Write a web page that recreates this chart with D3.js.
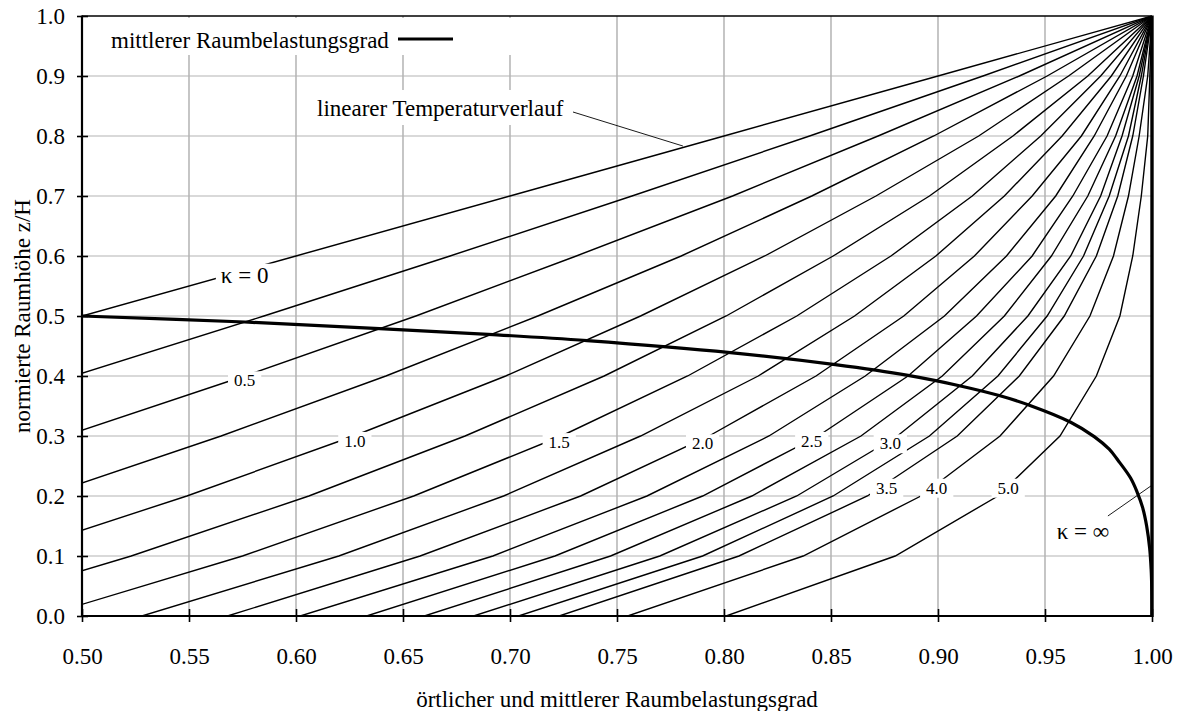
<!DOCTYPE html>
<html><head><meta charset="utf-8">
<script src="https://cdn.jsdelivr.net/npm/d3@7"></script>
<style>
body{margin:0;background:#fff}
svg{display:block}
svg text{font-family:"Liberation Serif","Times New Roman",serif !important;fill:#000}
</style>
</head><body><svg id="c" width="1179" height="711" font-family="Liberation Serif, Times New Roman, serif"></svg>
<script>
// ---- data ----
const zetaLevels = [0.0,0.1,0.2,0.3,0.4,0.5,0.6,0.7,0.8,0.9,1.0];
const kappaValues = [0,0.25,0.5,0.75,1.0,1.25,1.5,1.75,2.0,2.25,2.5,2.75,3.0,3.25,3.5,4.0,5.0];
const muK000 = [0.000,0.100,0.200,0.300,0.400,0.500,0.600,0.700,0.800,0.900,1.000];
const muK025 = [0.115,0.214,0.310,0.404,0.496,0.585,0.672,0.757,0.840,0.921,1.000];
const muK050 = [0.213,0.311,0.403,0.492,0.576,0.656,0.731,0.804,0.872,0.938,1.000];
const muK075 = [0.296,0.393,0.482,0.565,0.642,0.713,0.780,0.841,0.898,0.951,1.000];
const muK100 = [0.368,0.463,0.549,0.627,0.698,0.761,0.819,0.871,0.919,0.961,1.000];
const muK125 = [0.429,0.523,0.606,0.679,0.744,0.801,0.851,0.896,0.935,0.970,1.000];
const muK150 = [0.482,0.575,0.655,0.724,0.783,0.834,0.878,0.916,0.948,0.976,1.000];
const muK175 = [0.528,0.620,0.697,0.761,0.816,0.861,0.899,0.931,0.958,0.981,1.000];
const muK200 = [0.568,0.658,0.733,0.793,0.843,0.884,0.917,0.944,0.967,0.985,1.000];
const muK225 = [0.602,0.692,0.764,0.821,0.866,0.903,0.932,0.955,0.973,0.988,1.000];
const muK250 = [0.633,0.721,0.790,0.844,0.886,0.918,0.944,0.963,0.979,0.991,1.000];
const muK275 = [0.660,0.747,0.813,0.864,0.902,0.931,0.953,0.970,0.983,0.993,1.000];
const muK300 = [0.683,0.770,0.834,0.881,0.916,0.942,0.962,0.976,0.986,0.994,1.000];
const muK325 = [0.704,0.790,0.851,0.896,0.928,0.951,0.968,0.980,0.989,0.995,1.000];
const muK350 = [0.723,0.807,0.867,0.909,0.938,0.959,0.974,0.984,0.991,0.996,1.000];
const muK400 = [0.755,0.837,0.892,0.929,0.954,0.971,0.982,0.989,0.994,0.998,1.000];
const muK500 = [0.801,0.880,0.928,0.957,0.974,0.985,0.991,0.995,0.998,0.999,1.000];
const kappaSeries = [muK000,muK025,muK050,muK075,muK100,muK125,muK150,muK175,muK200,
                     muK225,muK250,muK275,muK300,muK325,muK350,muK400,muK500];

// mean room load factor (thick curve)
const meanMu   = [0.500,0.576,0.639,0.692,0.736,0.803,0.852,0.886,0.911,0.929,0.943,0.962,0.973,0.980,0.984,0.990,0.993,0.9956,0.9975,0.9989,0.9996,0.9999,1.000,1.000];
const meanZeta = [0.500,0.490,0.479,0.469,0.459,0.439,0.419,0.401,0.383,0.367,0.351,0.323,0.299,0.278,0.260,0.230,0.207,0.181,0.150,0.113,0.078,0.046,0.019,0.000];

// curve labels
const curveLabelText = ["0.5","1.0","1.5","2.0","2.5","3.0","3.5","4.0","5.0"];
const curveLabelMu   = [0.576,0.6275,0.723,0.790,0.841,0.8777,0.876,0.8994,0.9328];
const curveLabelZeta = [0.392,0.291,0.289,0.287,0.291,0.287,0.213,0.213,0.213];

const xTickValues = [0.50,0.55,0.60,0.65,0.70,0.75,0.80,0.85,0.90,0.95,1.00];
const yTickValues = [0.0,0.1,0.2,0.3,0.4,0.5,0.6,0.7,0.8,0.9,1.0];

// ---- layout ----
const FONT = '"Liberation Serif","Times New Roman",serif';
const W = 1179, H = 711;
const m = {l:82, t:16, r:27, b:95};
const x = d3.scaleLinear().domain([0.5,1]).range([m.l, W - m.r]);
const y = d3.scaleLinear().domain([0,1]).range([H - m.b, m.t]);
const svg = d3.select("#c");
const FS = 23;

svg.append("defs").append("clipPath").attr("id","plotclip")
  .append("rect").attr("x",x(0.5)).attr("y",y(1)).attr("width",x(1)-x(0.5)).attr("height",y(0)-y(1));

// grid
const grid = svg.append("g");
grid.selectAll("line.v").data(xTickValues.slice(1,-1)).join("line")
  .attr("x1",d=>x(d)).attr("x2",d=>x(d)).attr("y1",y(0)).attr("y2",y(1))
  .attr("stroke","#969696").attr("stroke-width",1.1);
grid.selectAll("line.h").data(yTickValues.slice(1,-1)).join("line")
  .attr("y1",d=>y(d)).attr("y2",d=>y(d)).attr("x1",x(0.5)).attr("x2",x(1))
  .attr("stroke","#b4b4b4").attr("stroke-width",1.1);

// kappa curves
const line = d3.line().x(d=>x(d[0])).y(d=>y(d[1])).curve(d3.curveLinear);
const cg = svg.append("g").attr("clip-path","url(#plotclip)");
cg.selectAll("path.k").data(kappaSeries).join("path")
  .attr("d", s => line(s.map((v,i)=>[v, zetaLevels[i]])))
  .attr("fill","none").attr("stroke","#000").attr("stroke-width",1.4);

// mean curve
const meanLine = d3.line().x(d=>x(d[0])).y(d=>y(d[1])).curve(d3.curveCatmullRom.alpha(0.5));
cg.append("path").attr("d", meanLine(meanMu.map((v,i)=>[v, meanZeta[i]])))
  .attr("fill","none").attr("stroke","#000").attr("stroke-width",3.2);

// helper: label with white box
function boxedText(g, tx, ty, txt, size, anchor, padX, padY){
  const t = g.append("text").attr("x",tx).attr("y",ty).attr("font-size",size)
    .attr("font-family",FONT)
    .attr("text-anchor",anchor||"middle").attr("dominant-baseline","central").text(txt);
  const b = t.node().getBBox();
  g.insert("rect","text").attr("x",b.x-padX).attr("y",b.y-padY)
    .attr("width",b.width+2*padX).attr("height",b.height+2*padY).attr("fill","#fff");
  return t;
}
const lg = svg.append("g");
curveLabelText.forEach((t,i)=>{
  const g = lg.append("g");
  boxedText(g, x(curveLabelMu[i]), y(curveLabelZeta[i]), t, 17, "middle", 6, 0);
});
// kappa = 0 label
{ const g = lg.append("g"); boxedText(g, x(0.576), y(0.568), "κ = 0", FS, "middle", 5, -1); }
// kappa = inf label + pointer
svg.append("line").attr("x1",x(0.9794)).attr("y1",y(0.1667)).attr("x2",x(1)).attr("y2",y(0.218))
  .attr("stroke","#000").attr("stroke-width",0.9);
svg.append("text").attr("x",x(0.9677)).attr("y",y(0.1406)).attr("font-size",FS).attr("font-family",FONT)
  .attr("text-anchor","middle").attr("dominant-baseline","central").text("κ = ∞");

// linear temperature annotation
{
  const g = svg.append("g");
  g.append("rect").attr("x",310).attr("y",90).attr("width",262).attr("height",35).attr("fill","#fff");
  g.append("text").attr("x",317).attr("y",116).attr("font-size",FS).attr("font-family",FONT).text("linearer Temperaturverlauf");
  g.append("line").attr("x1",573).attr("y1",112).attr("x2",x(0.7808)).attr("y2",y(0.7833))
    .attr("stroke","#000").attr("stroke-width",0.9);
}
// legend
{
  const g = svg.append("g");
  g.append("rect").attr("x",100).attr("y",18).attr("width",420).attr("height",37).attr("fill","#fff");
  g.append("text").attr("x",111).attr("y",48).attr("font-size",FS).attr("font-family",FONT).text("mittlerer Raumbelastungsgrad");
  g.append("line").attr("x1",398).attr("x2",453).attr("y1",39).attr("y2",39)
    .attr("stroke","#000").attr("stroke-width",3.2);
}

// axes
const xa = svg.append("g").attr("transform",`translate(0,${y(0)})`)
  .call(d3.axisBottom(x).tickValues(xTickValues).tickFormat(d3.format(".2f")).tickSize(6).tickPadding(26));
const xaIn = svg.append("g").attr("transform",`translate(0,${y(0)})`)
  .call(d3.axisBottom(x).tickValues(xTickValues).tickFormat("").tickSize(-7));
const ya = svg.append("g").attr("transform",`translate(${x(0.5)},0)`)
  .call(d3.axisLeft(y).tickValues(yTickValues).tickFormat(d3.format(".1f")).tickSize(5).tickPadding(12));
const yaIn = svg.append("g").attr("transform",`translate(${x(0.5)},0)`)
  .call(d3.axisLeft(y).tickValues(yTickValues).tickFormat("").tickSize(-6));
[xa,xaIn,ya,yaIn].forEach(a=>{
  a.attr("font-family",FONT).attr("font-size",FS);
  a.select(".domain").remove();
  a.selectAll(".tick line").attr("stroke","#000").attr("stroke-width",1.6);
  a.selectAll("text").attr("font-size",FS).attr("font-family",FONT).attr("fill","#000");
});
xa.selectAll(".tick text").attr("dy","0.71em");

// frame
svg.append("line").attr("x1",x(0.5)).attr("x2",x(1)).attr("y1",y(1)).attr("y2",y(1)).attr("stroke","#000").attr("stroke-width",1.6);
svg.append("line").attr("x1",x(0.5)).attr("x2",x(1)).attr("y1",y(0)).attr("y2",y(0)).attr("stroke","#000").attr("stroke-width",2.2);
svg.append("line").attr("x1",x(0.5)).attr("x2",x(0.5)).attr("y1",y(0)+1).attr("y2",y(1)-0.5).attr("stroke","#000").attr("stroke-width",2.2);
svg.append("line").attr("x1",x(1)).attr("x2",x(1)).attr("y1",y(0)+1).attr("y2",y(1)-0.5).attr("stroke","#000").attr("stroke-width",3.4);

// axis titles
svg.append("text").attr("transform",`translate(30,${(y(0)+y(1))/2}) rotate(-90)`)
  .attr("text-anchor","middle").attr("font-size",FS).attr("font-family",FONT).text("normierte Raumhöhe z/H");
svg.append("text").attr("x",(x(0.5)+x(1))/2).attr("y",707)
  .attr("text-anchor","middle").attr("font-size",FS).attr("font-family",FONT).text("örtlicher und mittlerer Raumbelastungsgrad");
</script>
</body></html>
